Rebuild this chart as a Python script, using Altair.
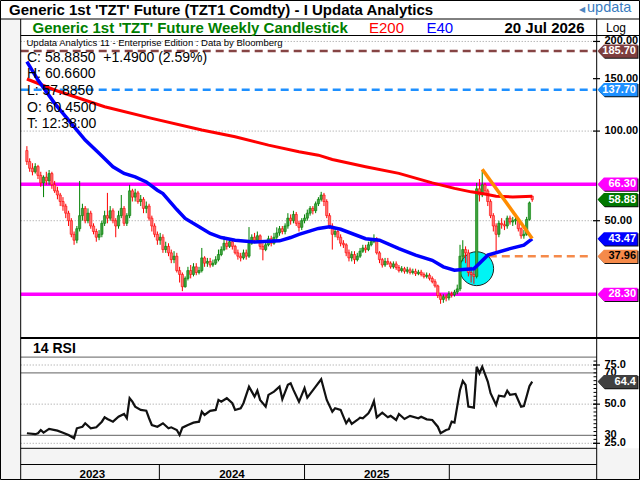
import altair as alt
import pandas as pd

FONT = "Liberation Sans"

# ---------------- data ----------------
start_date = "2023-02-01"   # first weekly candle

opens = [86, 79, 75, 73, 76, 71, 67, 70, 68, 72,
         66, 63, 61, 58, 56, 53, 50, 45, 43, 47,
         52, 55, 50, 53, 48, 46, 44, 45, 49, 52,
         51, 54, 50, 48, 52, 55, 49, 52, 63, 60,
         62, 58, 59, 55, 56, 51, 48, 45, 43, 44,
         40, 41, 39, 37, 38, 34, 33, 30, 32, 34,
         33, 35, 33.5, 34, 37.5, 36, 36.5, 35.5, 36, 37,
         38.5, 40, 42, 41, 42.5, 41, 39, 38, 37.5, 39,
         38, 42, 44, 43, 44.5, 41, 40, 41.5, 43.5, 42,
         44, 45.5, 47, 46, 48, 51, 50, 52.5, 49, 47.5,
         50, 51, 53, 55, 54, 57, 59, 61, 58, 52,
         48, 45, 46, 44, 42, 41.5, 39, 37.5, 38.5, 37,
         38, 39.5, 40.5, 40, 41.5, 42.5, 43.5, 39, 37, 35.5,
         36.5, 36, 35, 35.8, 34.8, 34, 34.5, 33.8, 34.2, 33.5,
         33.8, 33.2, 33.6, 33, 32.5, 32.8, 32, 31.2, 30.2, 28,
         27.2, 27.8, 27.5, 28.4, 28.2, 28.8, 29.5, 38, 40, 39,
         33.5, 33, 32.5, 64, 61, 66, 63, 58, 52, 48,
         45, 49, 48.5, 48, 51, 49.5, 50, 50.5, 47, 44.5,
         45, 50.5, 60.45]

highs = [89, 81, 78, 78, 77, 73, 71, 73, 74, 73,
         68, 65, 62, 60, 57, 54, 51, 46, 48, 68,
         57, 56, 55, 54, 49, 47, 46.5, 50, 54, 62,
         56, 55, 51, 54, 61, 56, 53, 66, 64, 64,
         63, 61, 60, 58, 57, 52, 49, 46, 45.5, 45,
         42.5, 42, 40, 39.5, 39, 35, 33.5, 32.5, 35, 35.5,
         36, 36, 35, 40.5, 38, 37.5, 37.5, 37, 38, 40,
         41, 44.3, 43, 43.5, 43, 41.5, 40, 39, 40, 40,
         47.6, 45, 45.5, 46, 45, 42, 42.5, 44.5, 44.5, 45.5,
         47.5, 48, 48, 49, 53, 52.5, 54, 53.5, 50, 51,
         52.5, 54.5, 56, 56, 58, 60, 62.5, 62, 59, 53,
         49, 47, 46.5, 45, 43, 42, 40, 39.5, 39.5, 39,
         40.5, 41.5, 41.5, 42.5, 43.5, 45, 44, 39.5, 37.5, 37.5,
         37.5, 36.5, 36.5, 36.5, 35.5, 35.2, 35, 35, 34.8, 34.5,
         34.5, 34.2, 34.2, 33.5, 33.5, 33.3, 32.5, 31.8, 30.5, 28.5,
         28.3, 28.3, 29, 28.9, 29.3, 30.5, 41.5, 43, 41, 40,
         35, 34.5, 67, 69, 74, 67, 64, 59, 53, 49,
         50, 51, 50, 52, 52, 51.5, 52, 51, 47.5, 46.5,
         51.5, 58, 60.66]

lows = [77, 73, 71, 72, 69, 65, 60, 66, 66, 64,
        62, 59, 56, 54, 51, 48, 44, 41.5, 42, 46,
        50, 49, 49, 47, 45, 42.5, 43, 44, 48, 49,
        50, 49, 44, 47, 51, 48, 48, 51, 58, 58,
        57, 56, 53, 53, 50, 46, 44, 41.5, 41.5, 39,
        39, 38, 36, 36, 33.5, 31, 29, 29.8, 31.5, 32,
        32.5, 32.8, 33, 33.5, 35, 35, 34.8, 35, 35.5, 36.5,
        38, 39.5, 40, 40.5, 40, 38.5, 37, 36.5, 37, 37,
        37.5, 41.5, 42, 42.5, 40, 36.8, 39.5, 41, 41, 41.5,
        43, 44.5, 45, 45, 47, 48.5, 49, 48, 46, 46.5,
        49, 50, 52, 52.5, 53, 56, 58, 56, 51, 47,
        40, 44, 43, 41, 40.5, 38, 36.5, 36.5, 35.8, 36.5,
        37.5, 39, 39, 39.5, 41, 42, 38.5, 36, 34.8, 35,
        35.5, 34.5, 34.5, 34.2, 33.5, 33.5, 33.2, 33.2, 33, 33,
        32.6, 32.8, 32.5, 32, 32, 31.5, 30.8, 29.8, 27.5, 26.3,
        26.5, 26.8, 27, 27.6, 27.8, 28.3, 29, 36.5, 36, 32.5,
        31, 30.7, 32, 58, 60, 61, 56, 51, 46, 39,
        44, 47, 46.5, 47, 48.5, 48, 48.5, 46, 43.5, 43.5,
        44.5, 50, 57.885]

closes = [79, 75, 73, 76, 71, 67, 70, 68, 72, 66,
          63, 61, 58, 56, 53, 50, 45, 43, 47, 52,
          55, 50, 53, 48, 46, 44, 45, 49, 52, 51,
          54, 50, 48, 52, 55, 49, 52, 63, 60, 62,
          58, 59, 55, 56, 51, 48, 45, 43, 44, 40,
          41, 39, 37, 38, 34, 33, 30, 32, 34, 33,
          35, 33.5, 34, 37.5, 36, 36.5, 35.5, 36, 37, 38.5,
          40, 42, 41, 42.5, 41, 39, 38, 37.5, 39, 38,
          42, 44, 43, 44.5, 41, 40, 41.5, 43.5, 42, 44,
          45.5, 47, 46, 48, 51, 50, 52.5, 49, 47.5, 50,
          51, 53, 55, 54, 57, 59, 61, 58, 52, 48,
          45, 46, 44, 42, 41.5, 39, 37.5, 38.5, 37, 38,
          39.5, 40.5, 40, 41.5, 42.5, 43.5, 39, 37, 35.5, 36.5,
          36, 35, 35.8, 34.8, 34, 34.5, 33.8, 34.2, 33.5, 33.8,
          33.2, 33.6, 33, 32.5, 32.8, 32, 31.2, 30.2, 28, 27.2,
          27.8, 27.5, 28.4, 28.2, 28.8, 29.5, 38, 40, 39, 33.5,
          33, 32.5, 64, 61, 66, 63, 58, 52, 48, 45,
          49, 48.5, 48, 51, 49.5, 50, 50.5, 47, 44.5, 45,
          50.5, 57.395, 58.885]

# moving averages (week index, value)
e200_week = [0, 10, 28, 45, 63, 75, 87, 98, 105, 110, 122, 134, 146, 154, 160, 164, 169, 175, 182]
e200_val = [149.6, 137.4, 120.7, 110.3, 100.8, 95.7, 89.7, 85.2, 83.0, 80.3, 75.9, 72.1,
            67.0, 64.2, 62.5, 61.7, 60.4, 60.1, 60.4]

e40_week = [0, 4, 10, 16, 18, 21, 26, 31, 35, 39, 43, 47, 49, 54, 57, 62, 66, 70, 75, 82,
            91, 95, 98, 105, 109, 113, 122, 127, 134, 140, 146, 150, 154, 157, 161, 166,
            174, 179, 181, 182]
e40_val = [171.0, 148.4, 123.9, 106.1, 100.8, 93.3, 84.3, 75.9, 72.1, 70.2, 67.5, 63.3, 61.7,
           54.5, 50.9, 47.7, 45.3, 43.9, 43.0, 42.4, 42.8, 43.9, 45.0, 47.1, 47.7, 46.8,
           43.5, 43.0, 40.3, 38.3, 36.8, 35.0, 34.1, 34.3, 34.5, 38.3, 40.3, 41.4, 42.8, 43.47]

# 14 RSI (week index, value)
rsi_week = [0, 3, 4, 5, 6, 8, 11, 13, 15, 17,
            18, 20, 21, 23, 25, 27, 28, 29, 31, 33,
            35, 36, 37, 38, 39, 41, 43, 44, 45, 47,
            49, 51, 52, 54, 55, 56, 58, 60, 62, 63,
            64, 66, 68, 69, 70, 72, 74, 75, 77, 78,
            80, 81, 82, 83, 84, 86, 87, 89, 91, 92,
            94, 95, 96, 98, 100, 101, 104, 106, 108, 110,
            111, 113, 114, 115, 116, 117, 119, 120, 121, 123,
            124, 125, 126, 128, 130, 131, 133, 134, 136, 138,
            141, 142, 144, 146, 148, 149, 151, 152, 153, 154,
            156, 157, 158, 159, 161, 162, 163, 164, 166, 167,
            169, 170, 172, 173, 174, 176, 178, 179, 180, 181,
            182]
rsi_val = [31.4, 30.8, 31.4, 33.5, 31.8, 34.2, 33.1, 31.8, 30.3, 28.2,
           34.6, 35.6, 37.8, 34.6, 35.2, 38.8, 41.6, 40.5, 38.8, 42.0,
           43.7, 41.0, 53.8, 51.6, 48.4, 46.3, 45.8, 41.0, 36.7, 35.6,
           37.8, 34.6, 35.2, 33.5, 30.3, 35.0, 36.7, 38.2, 38.8, 45.2,
           43.1, 45.7, 46.3, 52.7, 51.6, 53.8, 50.6, 46.3, 47.4, 50.6,
           61.2, 58.0, 54.8, 58.6, 52.7, 48.4, 55.9, 58.0, 61.2, 53.1,
           62.3, 63.3, 59.1, 51.5, 60.2, 54.2, 61.2, 65.9, 52.7, 45.2,
           47.4, 46.3, 42.0, 37.8, 40.5, 37.4, 39.9, 41.4, 41.0, 44.2,
           47.4, 52.0, 41.6, 44.6, 41.6, 42.5, 39.9, 43.7, 40.5, 42.5,
           41.0, 42.0, 40.3, 39.9, 35.6, 31.4, 33.5, 34.0, 38.8, 38.2,
           59.1, 64.8, 62.3, 48.4, 47.8, 73.9, 69.7, 73.9, 64.4, 57.0,
           49.5, 55.4, 54.8, 58.6, 55.9, 56.5, 48.4, 48.8, 55.0, 61.5,
           64.4]

# annotations
magenta_levels = [66.30, 28.30]
brown_level = [185.70]
blue_level = [137.70]
orange_level = [37.96]
orange_level_start_week = 157
trend_week = [164, 182]
trend_val = [74.4, 43.6]
circle_week = [162]
circle_val = [34.5]

price_ticks = [200, 150, 100, 50]
price_grid = [200, 100, 50]
tag_values = [185.70, 137.70, 66.30, 58.88, 43.47, 37.96, 28.30]
tag_labels = ["185.70", "137.70", "66.30", "58.88", "43.47", "37.96", "28.30"]
tag_fills = ["#7e3e3e", "#1e90ff", "#ff00ff", "#007800", "#0000ff", "#f58a4a", "#ff00ff"]
tag_text_colors = ["white", "white", "white", "white", "white", "black", "white"]

rsi_solid = [80, 70, 30]
rsi_dotted = [75, 50, 25]
rsi_major_ticks = [75, 50, 25]
rsi_label_values = [75, 70, 50, 30, 25]
rsi_label_text = ["75.0", "70", "50.0", "30", "25.0"]
rsi_tag_value = [64.4]
rsi_tag_label = ["64.4"]

year_bounds = ["2023-01-29", "2024-01-01", "2025-01-01", "2026-01-01", "2026-12-26"]
year_labels = ["2023", "2024", "2025", ""]

ohlc_lines = ["C: 58.8850 \u00a0+1.4900 (2.59%)", "H: 60.6600", "L: 57.8850", "O: 60.4500", "T: 12:38:00"]

# ---------------- scales ----------------
dates = pd.date_range(start_date, periods=len(closes), freq="7D").strftime("%Y-%m-%d").tolist()


def wk(idx):
    return [dates[i] for i in idx]


X_SCALE = alt.Scale(domain=[alt.DateTime(year=2023, month=1, date=29, utc=True),
                            alt.DateTime(year=2026, month=12, date=26, utc=True)],
                    range=[20.7, 596.7])
P_SCALE = alt.Scale(type="log", domain=[20.5, 207], range=[336, 37], nice=False)
R_SCALE = alt.Scale(domain=[25, 75], range=[443.3, 365], nice=False, zero=False)

ONE = pd.DataFrame({"k": [0]})
L = []


def X(field="d"):
    return alt.X(f"{field}:T", scale=X_SCALE, axis=None)


def PY(field="v"):
    return alt.Y(f"{field}:Q", scale=P_SCALE, axis=None)


def RY(field="v"):
    return alt.Y(f"{field}:Q", scale=R_SCALE, axis=None)


def rect(x1, x2, y1, y2, fill, stroke=None, sw=0):
    kw = dict(fill=fill, strokeWidth=sw)
    if stroke:
        kw["stroke"] = stroke
    return alt.Chart(ONE).mark_rect(**kw).encode(
        x=alt.value(x1), x2=alt.value(x2), y=alt.value(y1), y2=alt.value(y2))


def seg(x1, x2, y1, y2, color="black", sw=1):
    return alt.Chart(ONE).mark_rule(color=color, strokeWidth=sw).encode(
        x=alt.value(x1), x2=alt.value(x2), y=alt.value(y1), y2=alt.value(y2))


def txt(text, x, y, size, color="black", weight="normal", align="left",
        baseline="alphabetic", font=FONT):
    return alt.Chart(ONE).mark_text(text=text, fontSize=size, color=color, fontWeight=weight,
                                    align=align, baseline=baseline, font=font).encode(
        x=alt.value(x), y=alt.value(y))


def hrules(vals, yfn, color, sw, dash=None, x1=20.7, x2=596.7):
    kw = dict(color=color, strokeWidth=sw)
    if dash:
        kw["strokeDash"] = dash
    return alt.Chart(pd.DataFrame({"v": vals})).mark_rule(**kw).encode(
        y=yfn("v"), x=alt.value(x1), x2=alt.value(x2))


# ---------------- backgrounds ----------------
L.append(rect(0, 20.7, 19, 480, "#f4f4f4"))
L.append(rect(20.7, 640, 448.3, 480, "#f4f4f4"))

# ---------------- price panel ----------------
L.append(hrules(price_grid, PY, "#9a9a9a", 1, [1, 2]))
L.append(hrules(magenta_levels, PY, "#ff00ff", 3.5))
L.append(hrules(brown_level, PY, "#864444", 2.5, [8, 5]))
L.append(hrules(blue_level, PY, "#1e90ff", 2.5, [8, 5]))
L.append(alt.Chart(pd.DataFrame({"v": orange_level, "d": [dates[orange_level_start_week]],
                                 "d2": [year_bounds[-1]]}))
         .mark_rule(color="#f58a4a", strokeWidth=2.5, strokeDash=[8, 5])
         .encode(x=X("d"), x2="d2:T", y=PY("v")))

L.append(alt.Chart(pd.DataFrame({"d": wk(circle_week), "v": circle_val}))
         .mark_point(shape="circle", filled=True, size=1150, fill="#00f4f4", stroke="#222222",
                     strokeWidth=1, opacity=1)
         .encode(x=X("d"), y=PY("v")))

cdf = pd.DataFrame({"d": dates, "o": opens, "h": highs, "l": lows, "c": closes})
cdf["dir"] = ["up" if c >= o else "down" for o, c in zip(opens, closes)]
dark = alt.Scale(domain=["up", "down"], range=["#008000", "#ff0000"])
light = alt.Scale(domain=["up", "down"], range=["#3fa03f", "#ff7070"])
L.append(alt.Chart(cdf).mark_rule(strokeWidth=1).encode(
    x=X("d"), y=PY("l"), y2="h:Q", color=alt.Color("dir:N", scale=dark, legend=None)))
L.append(alt.Chart(cdf).mark_bar(size=2.3, strokeWidth=0.6).encode(
    x=X("d"), y=PY("o"), y2="c:Q",
    fill=alt.Fill("dir:N", scale=light, legend=None),
    stroke=alt.Stroke("dir:N", scale=dark, legend=None)))

L.append(alt.Chart(pd.DataFrame({"d": wk(e200_week), "v": e200_val}))
         .mark_line(color="#ff0000", strokeWidth=3).encode(x=X("d"), y=PY("v")))
L.append(alt.Chart(pd.DataFrame({"d": wk(e40_week), "v": e40_val}))
         .mark_line(color="#0000ff", strokeWidth=3.5).encode(x=X("d"), y=PY("v")))
L.append(alt.Chart(pd.DataFrame({"d": wk(trend_week), "v": trend_val}))
         .mark_line(color="#ff8c00", strokeWidth=3.5).encode(x=X("d"), y=PY("v")))

# texts in price panel
for k, line in enumerate(ohlc_lines):
    L.append(txt(line, 27, 61.7 + k * 16.65, 14))
L.append(txt("Updata Analytics 11 - Enterprise Edition : Data by Bloomberg", 26.5, 45.5, 9.5))

# ---------------- RSI panel ----------------
L.append(hrules(rsi_dotted, RY, "#9a9a9a", 1, [1, 2]))
L.append(hrules(rsi_solid, RY, "#808080", 1.3))
L.append(alt.Chart(pd.DataFrame({"d": wk(rsi_week), "v": rsi_val}))
         .mark_line(color="#111111", strokeWidth=2.2).encode(x=X("d"), y=RY("v")))
L.append(txt("14 RSI", 33, 353, 14, weight="bold"))

# ---------------- x axis band ----------------
L.append(alt.Chart(pd.DataFrame({"d": year_bounds[1:-1]})).mark_rule(color="black", strokeWidth=1)
         .encode(x=X("d"), y=alt.value(464.5), y2=alt.value(480)))
ydf = pd.DataFrame({"s": pd.to_datetime(year_bounds[:-1]), "e": pd.to_datetime(year_bounds[1:]),
                    "t": year_labels})
ydf["d"] = (ydf["s"] + (ydf["e"] - ydf["s"]) / 2).dt.strftime("%Y-%m-%d")
L.append(alt.Chart(ydf[["d", "t"]]).mark_text(fontSize=11.5, fontWeight="bold", font=FONT,
                                             align="center", baseline="alphabetic")
         .encode(x=X("d"), y=alt.value(477.5), text="t:N"))

# ---------------- frame lines ----------------
L.append(seg(0, 640, 19, 19))
L.append(seg(20.7, 640, 35.5, 35.5))
L.append(seg(20.7, 640, 338, 338, sw=2.2))
L.append(seg(20.7, 596.7, 448.3, 448.3))
L.append(seg(20.7, 596.7, 464.5, 464.5))
L.append(seg(20.7, 20.7, 19, 480))
L.append(seg(596.7, 596.7, 19, 480))
L.append(rect(0.5, 639.5, 0.5, 479.5, "transparent", stroke="black", sw=1))

# ---------------- titles ----------------
L.append(txt("Generic 1st 'TZT' Future (TZT1 Comdty) - I Updata Analytics", 9, 15, 15, weight="bold"))
L.append(txt("\u25c0", 579, 11.5, 8, color="#4f86c0", font="DejaVu Sans"))
L.append(txt("updata", 587, 12, 14.5, color="#3a7cc0"))
L.append(txt("Generic 1st 'TZT' Future Weekly Candlestick", 32.5, 32.5, 15, color="#008000", weight="bold"))
L.append(txt("E200", 369, 32.5, 15, color="#ff0000"))
L.append(txt("E40", 426.5, 32.5, 15, color="#0000ff"))
L.append(txt("20 Jul 2026", 584.5, 32.5, 15, weight="bold", align="right"))
L.append(txt("Log", 616, 32, 12, align="center"))

# ---------------- right axes ----------------
L.append(alt.Chart(pd.DataFrame({"v": price_ticks})).mark_rule(color="black", strokeWidth=1.2)
         .encode(y=PY("v"), x=alt.value(593), x2=alt.value(600)))
L.append(alt.Chart(pd.DataFrame({"v": price_ticks, "t": [f"{v:.2f}" for v in price_ticks]}))
         .mark_text(fontSize=11, fontWeight="bold", font=FONT, align="left", baseline="middle")
         .encode(y=PY("v"), x=alt.value(604.5), text="t:N"))

TAG = "M-1,0 L-0.68,-0.33 L1,-0.33 L1,0.33 L-0.68,0.33 Z"
tdf = pd.DataFrame({"v": tag_values, "t": tag_labels, "f": tag_fills, "tc": tag_text_colors})
L.append(alt.Chart(tdf).mark_point(shape=TAG, size=1600, filled=True, opacity=1, fill="#111111",
                                   strokeWidth=0, xOffset=1, yOffset=1)
         .encode(y=PY("v"), x=alt.value(617.5)))
L.append(alt.Chart(tdf).mark_point(shape=TAG, size=1600, filled=True, opacity=1, strokeWidth=0)
         .encode(y=PY("v"), x=alt.value(617.5), fill=alt.Fill("f:N", scale=None)))
L.append(alt.Chart(tdf).mark_text(fontSize=11, fontWeight="bold", font=FONT, align="right",
                                  baseline="middle")
         .encode(y=PY("v"), x=alt.value(636), text="t:N", color=alt.Color("tc:N", scale=None)))

# RSI axis
minor = [25 + 2.5 * k for k in range(22)]
L.append(alt.Chart(pd.DataFrame({"v": minor})).mark_rule(color="black", strokeWidth=1)
         .encode(y=RY("v"), x=alt.value(593.5), x2=alt.value(596.7)))
L.append(alt.Chart(pd.DataFrame({"v": rsi_major_ticks})).mark_rule(color="black", strokeWidth=1.2)
         .encode(y=RY("v"), x=alt.value(593), x2=alt.value(600)))
L.append(alt.Chart(pd.DataFrame({"v": rsi_label_values, "t": rsi_label_text}))
         .mark_text(fontSize=11, fontWeight="bold", font=FONT, align="left", baseline="middle")
         .encode(y=RY("v"), x=alt.value(604.5), text="t:N"))
rdf = pd.DataFrame({"v": rsi_tag_value, "t": rsi_tag_label})
L.append(alt.Chart(rdf).mark_point(shape=TAG, size=1600, filled=True, opacity=1, fill="#111111",
                                   strokeWidth=0, xOffset=1, yOffset=1)
         .encode(y=RY("v"), x=alt.value(617.5)))
L.append(alt.Chart(rdf).mark_point(shape=TAG, size=1600, filled=True, opacity=1, fill="#404040",
                                   strokeWidth=0)
         .encode(y=RY("v"), x=alt.value(617.5)))
L.append(alt.Chart(rdf).mark_text(fontSize=11, fontWeight="bold", font=FONT, align="right",
                                  baseline="middle", color="white")
         .encode(y=RY("v"), x=alt.value(636), text="t:N"))

chart = (alt.layer(*L)
         .resolve_scale(y="independent", fill="independent", stroke="independent",
                        color="independent")
         .properties(width=640, height=480, padding=0,
                     autosize=alt.AutoSizeParams(type="none"), background="white")
         .configure_view(strokeWidth=0))

chart.save("out.html", embed_options={"renderer": "svg", "actions": False})
